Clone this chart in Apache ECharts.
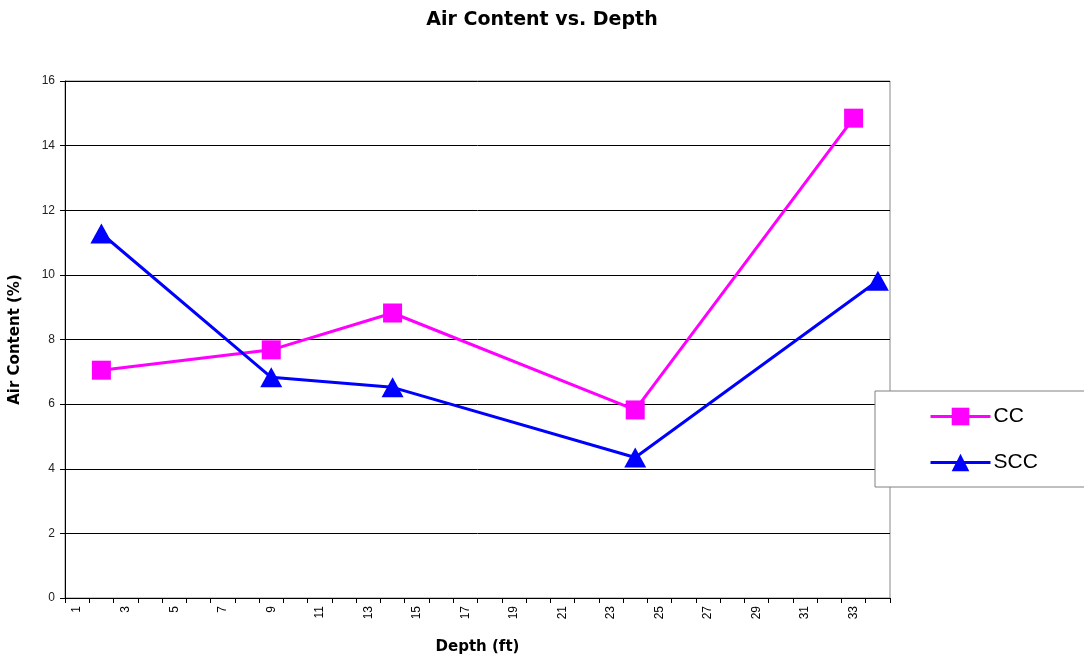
<!DOCTYPE html>
<html>
<head>
<meta charset="utf-8">
<script src="https://cdn.jsdelivr.net/npm/echarts@6/dist/echarts.min.js"></script>
<style>html,body{margin:0;padding:0;background:#fff}#c{width:1084px;height:660px}</style>
</head>
<body>
<div id="c"></div>
<script>
// Data
var depths = [];
for (var d = 1; d <= 34; d++) depths.push(String(d));
var ccDepths = [2, 9, 14, 24, 33];
var ccValues = [7.05, 7.68, 8.82, 5.82, 14.85];
var sccDepths = [2, 9, 14, 24, 34];
var sccValues = [11.28, 6.83, 6.52, 4.35, 9.82];
var yTicks = [0, 2, 4, 6, 8, 10, 12, 14, 16];

function toSeries(ds, vs) {
  var arr = depths.map(function () { return null; });
  ds.forEach(function (dd, i) { arr[depths.indexOf(String(dd))] = vs[i]; });
  return arr;
}

var chart = echarts.init(document.getElementById('c'), null, {renderer: 'canvas'});
var font = 'Liberation Sans, Arial, sans-serif';
var boldFont = 'DejaVu Sans, Verdana, sans-serif';
chart.setOption({
  animation: false,
  backgroundColor: '#fff',
  title: {
    text: 'Air Content vs. Depth',
    left: 'center', top: 6,
    textStyle: {fontFamily: boldFont, fontSize: 19, fontWeight: 'bold', color: '#000'}
  },
  legend: {
    orient: 'vertical',
    left: 875, top: 391,
    width: 220, height: 96,
    padding: [15, 80, 14, 54],
    itemGap: 25,
    itemWidth: 60, itemHeight: 22,
    borderColor: '#808080', borderWidth: 1,
    backgroundColor: '#fff',
    lineStyle: {width: 3},
    textStyle: {fontFamily: font, fontSize: 21, color: '#000', padding: [0, 0, 0, -2]},
    data: ['CC', 'SCC']
  },
  grid: {
    left: 65, right: 194, top: 81, bottom: 56,
    show: true, borderColor: '#888', borderWidth: 1
  },
  xAxis: {
    type: 'category',
    data: depths,
    boundaryGap: true,
    name: 'Depth (ft)',
    nameLocation: 'middle',
    nameGap: 42,
    nameTextStyle: {fontFamily: boldFont, fontSize: 15, fontWeight: 'bold', color: '#000'},
    axisLine: {show: true, lineStyle: {color: '#000', width: 1}},
    axisTick: {show: true, interval: 0, length: 5, lineStyle: {color: '#000'}},
    axisLabel: {interval: 1, rotate: 90, fontFamily: font, fontSize: 12, color: '#000', margin: 8},
    splitLine: {show: false}
  },
  yAxis: {
    type: 'value',
    min: 0, max: 16, interval: 2,
    name: 'Air Content (%)',
    nameLocation: 'middle',
    nameGap: 42,
    nameTextStyle: {fontFamily: boldFont, fontSize: 15, fontWeight: 'bold', color: '#000'},
    axisLine: {show: true, lineStyle: {color: '#000', width: 1}},
    axisTick: {show: true, length: 5, lineStyle: {color: '#000'}},
    axisLabel: {fontFamily: font, fontSize: 12, color: '#222', margin: 10,
      formatter: function (v) { return yTicks.indexOf(v) >= 0 ? String(v) : ''; }},
    splitLine: {show: true, lineStyle: {color: '#000', width: 1}}
  },
  series: [
    {
      name: 'CC', type: 'line',
      data: toSeries(ccDepths, ccValues),
      connectNulls: true,
      showAllSymbol: true,
      symbol: 'rect', symbolSize: 19,
      itemStyle: {color: '#ff00ff'},
      lineStyle: {color: '#ff00ff', width: 3}
    },
    {
      name: 'SCC', type: 'line',
      data: toSeries(sccDepths, sccValues),
      connectNulls: true,
      showAllSymbol: true,
      symbol: 'triangle', symbolSize: [22, 20],
      itemStyle: {color: '#0000ff'},
      lineStyle: {color: '#0000ff', width: 3}
    }
  ]
});
</script>
</body>
</html>
